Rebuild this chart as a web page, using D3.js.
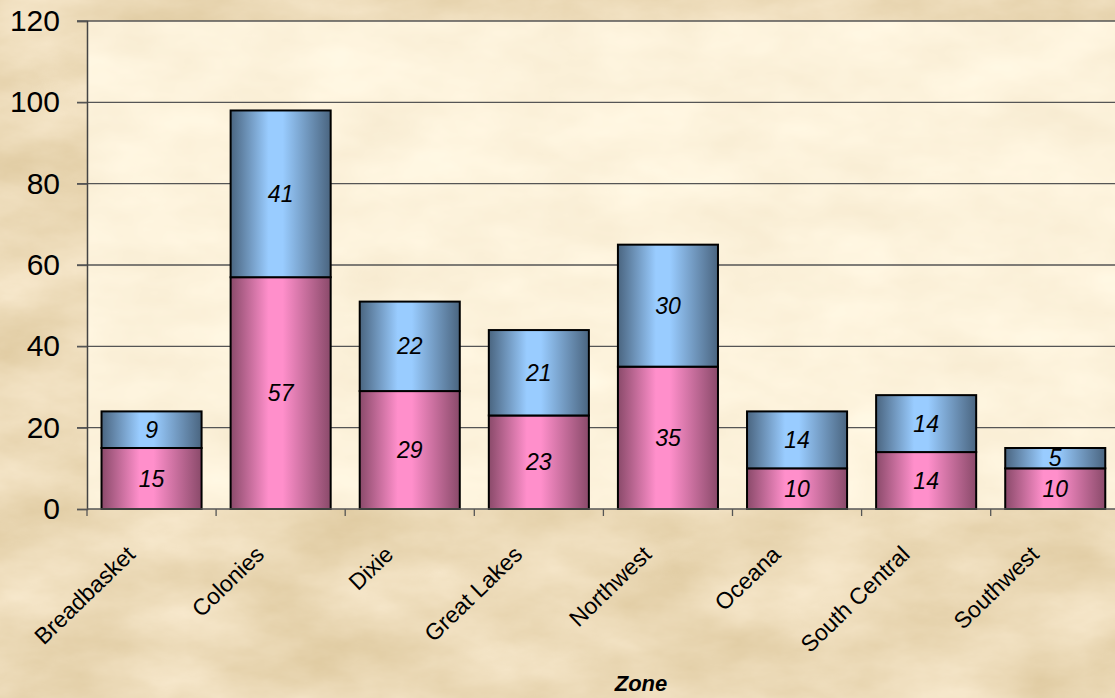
<!DOCTYPE html>
<html>
<head>
<meta charset="utf-8">
<script src="https://cdn.jsdelivr.net/npm/d3@7"></script>
<style>
  html, body { margin: 0; padding: 0; overflow: hidden; }
  svg { display: block; font-family: Arial, "Liberation Sans", sans-serif; }
</style>
</head>
<body>
<svg id="chart" width="1115" height="698"></svg>
<script>
const categories = ["Breadbasket", "Colonies", "Dixie", "Great Lakes", "Northwest", "Oceana", "South Central", "Southwest"];
const seriesBottom = [15, 57, 29, 23, 35, 10, 14, 10];
const seriesTop = [9, 41, 22, 21, 30, 14, 14, 5];
const yTicks = [0, 20, 40, 60, 80, 100, 120];
const xTitle = "Zone";

const W = 1115, H = 698;
const margin = { left: 87, top: 21, bottom: 509 };
const bandW = 129.1;
const svg = d3.select("#chart");
const defs = svg.append("defs");

// parchment texture
const f = defs.append("filter").attr("id", "paper").attr("x", 0).attr("y", 0).attr("width", "100%").attr("height", "100%")
  .attr("color-interpolation-filters", "sRGB");
f.append("feTurbulence").attr("type", "fractalNoise").attr("baseFrequency", "0.008 0.016").attr("numOctaves", 6).attr("seed", 11).attr("result", "noise");
f.append("feColorMatrix").attr("in", "noise").attr("type", "matrix")
  .attr("values", "0.12 0 0 0 0.865  0.15 0 0 0 0.78  0.22 0 0 0 0.61  0 0 0 0 1");
const f2 = defs.append("filter").attr("id", "paper2").attr("x", 0).attr("y", 0).attr("width", "100%").attr("height", "100%")
  .attr("color-interpolation-filters", "sRGB");
f2.append("feTurbulence").attr("type", "fractalNoise").attr("baseFrequency", "0.01 0.02").attr("numOctaves", 4).attr("seed", 3).attr("result", "noise");
f2.append("feColorMatrix").attr("in", "noise").attr("type", "matrix")
  .attr("values", "0.05 0 0 0 0.965  0.07 0 0 0 0.915  0.1 0 0 0 0.81  0 0 0 0 1");

svg.append("rect").attr("width", W).attr("height", H).attr("fill", "#ead8b3").attr("filter", "url(#paper)");

const x = d3.scaleBand().domain(categories).range([margin.left, margin.left + bandW * categories.length]).paddingInner(0.225).paddingOuter(0.1125);
const y = d3.scaleLinear().domain([0, 120]).range([margin.bottom, margin.top]);

// plot area
const clip = defs.append("clipPath").attr("id", "plotclip");
clip.append("rect").attr("x", margin.left).attr("y", margin.top).attr("width", W - margin.left).attr("height", margin.bottom - margin.top);
svg.append("rect").attr("x", 0).attr("y", 0).attr("width", W).attr("height", H)
  .attr("clip-path", "url(#plotclip)").attr("fill", "#fcf2dd").attr("filter", "url(#paper2)");

// gridlines
svg.append("g").selectAll("line").data(yTicks.filter(d => d > 0)).join("line")
  .attr("x1", margin.left - 10).attr("x2", W).attr("y1", d => y(d)).attr("y2", d => y(d))
  .attr("stroke", "#555").attr("stroke-width", 1.3);

// gradients
function grad(id, dark, light) {
  const g = defs.append("linearGradient").attr("id", id).attr("x1", "0%").attr("x2", "100%").attr("y1", 0).attr("y2", 0);
  g.append("stop").attr("offset", "0%").attr("stop-color", dark);
  g.append("stop").attr("offset", "38%").attr("stop-color", light);
  g.append("stop").attr("offset", "52%").attr("stop-color", light);
  g.append("stop").attr("offset", "100%").attr("stop-color", dark);
}
grad("gBlue", "#4a6580", "#99ccff");
grad("gPink", "#8a4a6a", "#ff8fcb");

const stack = categories.map((c, i) => ({ c, b: seriesBottom[i], t: seriesTop[i] }));

const gBars = svg.append("g");
gBars.selectAll("rect.b").data(stack).join("rect").attr("class", "b")
  .attr("x", d => x(d.c)).attr("width", x.bandwidth())
  .attr("y", d => y(d.b)).attr("height", d => y(0) - y(d.b))
  .attr("fill", "url(#gPink)").attr("stroke", "#000").attr("stroke-width", 2);
gBars.selectAll("rect.t").data(stack).join("rect").attr("class", "t")
  .attr("x", d => x(d.c)).attr("width", x.bandwidth())
  .attr("y", d => y(d.b + d.t)).attr("height", d => y(d.b) - y(d.b + d.t))
  .attr("fill", "url(#gBlue)").attr("stroke", "#000").attr("stroke-width", 2);

// labels
const lab = svg.append("g").attr("font-size", 23).attr("font-style", "italic").attr("text-anchor", "middle").attr("fill", "#000");
lab.selectAll("text.b").data(stack).join("text")
  .attr("x", d => x(d.c) + x.bandwidth() / 2).attr("y", d => y(d.b / 2)).attr("dy", "0.35em").text(d => d.b);
lab.selectAll("text.t").data(stack).join("text")
  .attr("x", d => x(d.c) + x.bandwidth() / 2).attr("y", d => y(d.b + d.t / 2)).attr("dy", "0.35em").text(d => d.t);

// y axis
const yAxis = svg.append("g").attr("transform", `translate(${margin.left},0)`)
  .call(d3.axisLeft(y).tickValues(yTicks).tickSize(10).tickPadding(17));
yAxis.select(".domain").attr("stroke", "#444").attr("stroke-width", 1.5);
yAxis.selectAll(".tick line").attr("stroke", "#555").attr("stroke-width", 1.3);
yAxis.selectAll("text").attr("font-size", 30).attr("fill", "#000").attr("font-family", "Arial, 'Liberation Sans', sans-serif");

// x axis
const xb = d3.scaleBand().domain(categories).range([margin.left, margin.left + bandW * categories.length]);
const xAxis = svg.append("g").attr("transform", `translate(0,${margin.bottom})`);
xAxis.append("line").attr("x1", margin.left).attr("x2", W).attr("stroke", "#555").attr("stroke-width", 1.5);
xAxis.selectAll("line.tk").data(categories).join("line").attr("class", "tk")
  .attr("x1", d => xb(d)).attr("x2", d => xb(d)).attr("y1", 0).attr("y2", 7).attr("stroke", "#555").attr("stroke-width", 1.3);
xAxis.selectAll("text").data(categories).join("text")
  .attr("transform", d => `translate(${xb(d) + xb.bandwidth() / 2 - 15},${47}) rotate(-44)`)
  .attr("text-anchor", "end").attr("font-size", 23).attr("fill", "#000")
  .text(d => d);

svg.append("text").attr("x", 641).attr("y", 691).attr("text-anchor", "middle")
  .attr("font-size", 22).attr("font-weight", "bold").attr("font-style", "italic").text(xTitle);
</script>
</body>
</html>
